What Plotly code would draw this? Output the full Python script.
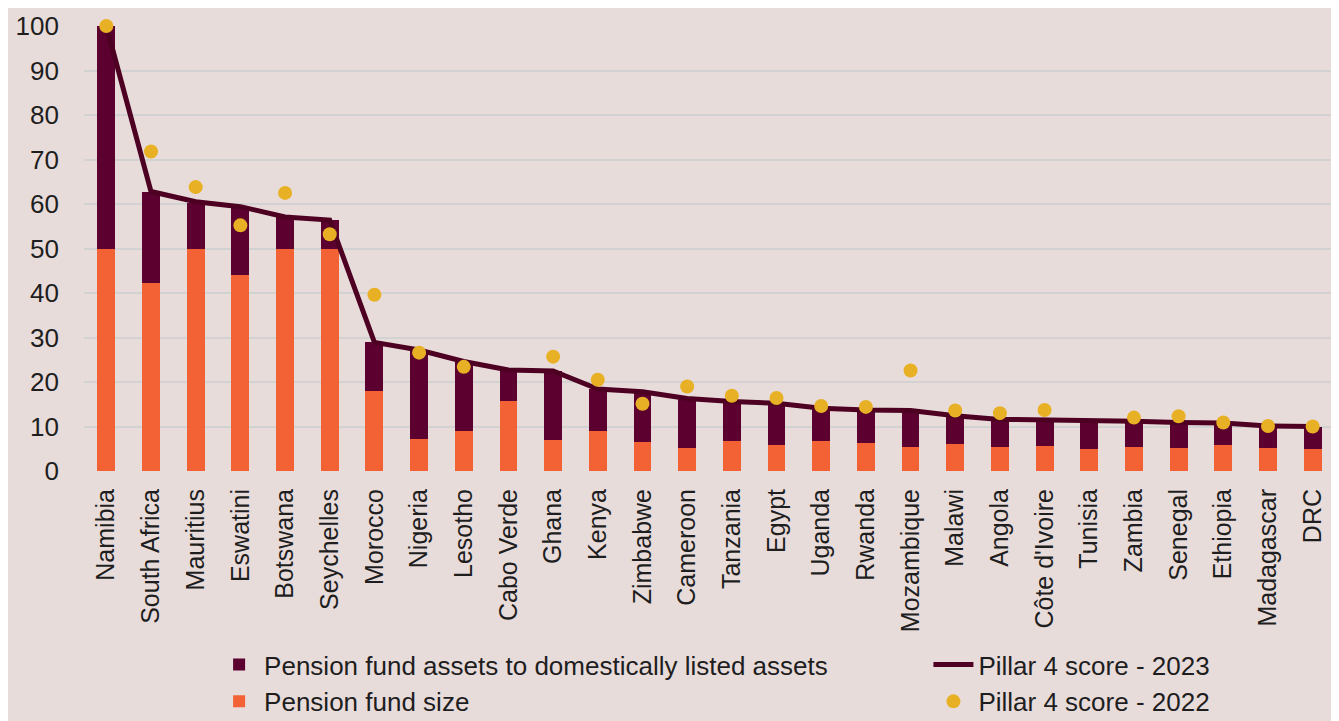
import plotly.graph_objects as go

countries = ["Namibia", "South Africa", "Mauritius", "Eswatini", "Botswana", "Seychelles",
             "Morocco", "Nigeria", "Lesotho", "Cabo Verde", "Ghana", "Kenya", "Zimbabwe",
             "Cameroon", "Tanzania", "Egypt", "Uganda", "Rwanda", "Mozambique", "Malawi",
             "Angola", "Côte d'Ivoire", "Tunisia", "Zambia", "Senegal", "Ethiopia",
             "Madagascar", "DRC"]

# pension fund size (orange, bottom segment)
fund_size = [50, 42.3, 50, 44.0, 50, 50, 18.0, 7.3, 9.1, 15.8, 7.0, 8.9, 6.5,
             5.2, 6.7, 5.8, 6.8, 6.4, 5.5, 6.1, 5.4, 5.6, 4.9, 5.5, 5.1, 5.8, 5.1, 4.9]
# pension fund assets to domestically listed assets (maroon, top segment)
assets_ratio = [50, 20.5, 10.3, 15.4, 7.1, 6.4, 10.9, 19.9, 15.5, 6.9, 15.5, 9.5, 11.3,
                11.1, 8.9, 9.4, 7.3, 7.3, 8.1, 6.3, 6.2, 5.9, 6.4, 5.7, 5.8, 5.0, 5.0, 5.1]
# Pillar 4 score - 2023 (line)
score_2023 = [100, 62.8, 60.5, 59.4, 57.1, 56.4, 28.9, 27.2, 24.6, 22.7, 22.5, 18.4, 17.8,
              16.3, 15.6, 15.2, 14.1, 13.7, 13.6, 12.4, 11.6, 11.5, 11.3, 11.2, 10.9, 10.8,
              10.1, 10.0]
# Pillar 4 score - 2022 (dots)
score_2022 = [100, 71.8, 63.8, 55.2, 62.5, 53.2, 39.6, 26.6, 23.4, None, 25.7, 20.5, 15.1,
              19.0, 16.9, 16.4, 14.6, 14.4, 22.6, 13.6, 13.0, 13.7, None, 12.0, 12.3, 10.9,
              10.1, 10.0]

bg = "#E8DCDB"
font = "Liberation Sans"
text_color = "#1E1E1E"

fig = go.Figure()
fig.add_trace(go.Bar(x=countries, y=fund_size, name="Pension fund size",
                     marker=dict(color="#F26234", line=dict(width=0)),
                     legend="legend", legendrank=2))
fig.add_trace(go.Bar(x=countries, y=assets_ratio,
                     name="Pension fund assets to domestically listed assets",
                     marker=dict(color="#5C0030", line=dict(width=0)),
                     legend="legend", legendrank=1))
fig.add_trace(go.Scatter(x=countries, y=score_2023, mode="lines", name="Pillar 4 score - 2023",
                         line=dict(color="#4E0022", width=5),
                         legend="legend2", legendrank=1))
fig.add_trace(go.Scatter(x=countries, y=score_2022, mode="markers", name="Pillar 4 score - 2022",
                         marker=dict(color="#E8B125", size=14), cliponaxis=False,
                         legend="legend2", legendrank=2))

legend_style = dict(orientation="v", xanchor="left", yanchor="top", yref="container",
                    y=0.112, font=dict(size=26, color=text_color), bgcolor="rgba(0,0,0,0)",
                    traceorder="normal", tracegroupgap=0, itemwidth=40)

# the page adds an 8px body margin, so the figure is made 8px smaller
fig.update_layout(
    barmode="stack",
    bargap=0.6,
    width=1331, height=713,
    paper_bgcolor=bg, plot_bgcolor=bg,
    margin=dict(l=76, r=4, t=18, b=250),
    font=dict(family=font, size=25, color=text_color),
    legend=dict(x=0.104, **legend_style),
    legend2=dict(x=0.675, **legend_style),
    xaxis=dict(tickangle=-90, showgrid=False, ticks="", tickfont=dict(size=25),
               ticklabelstandoff=12, automargin=False,
               range=[-0.5, len(countries) - 0.5]),
    yaxis=dict(range=[0, 100], dtick=10, gridcolor="#D2D2D2", gridwidth=2,
               zeroline=False, tickfont=dict(size=26), ticks="",
               ticklabelstandoff=24, automargin=False),
)

fig.write_html("out.html")
